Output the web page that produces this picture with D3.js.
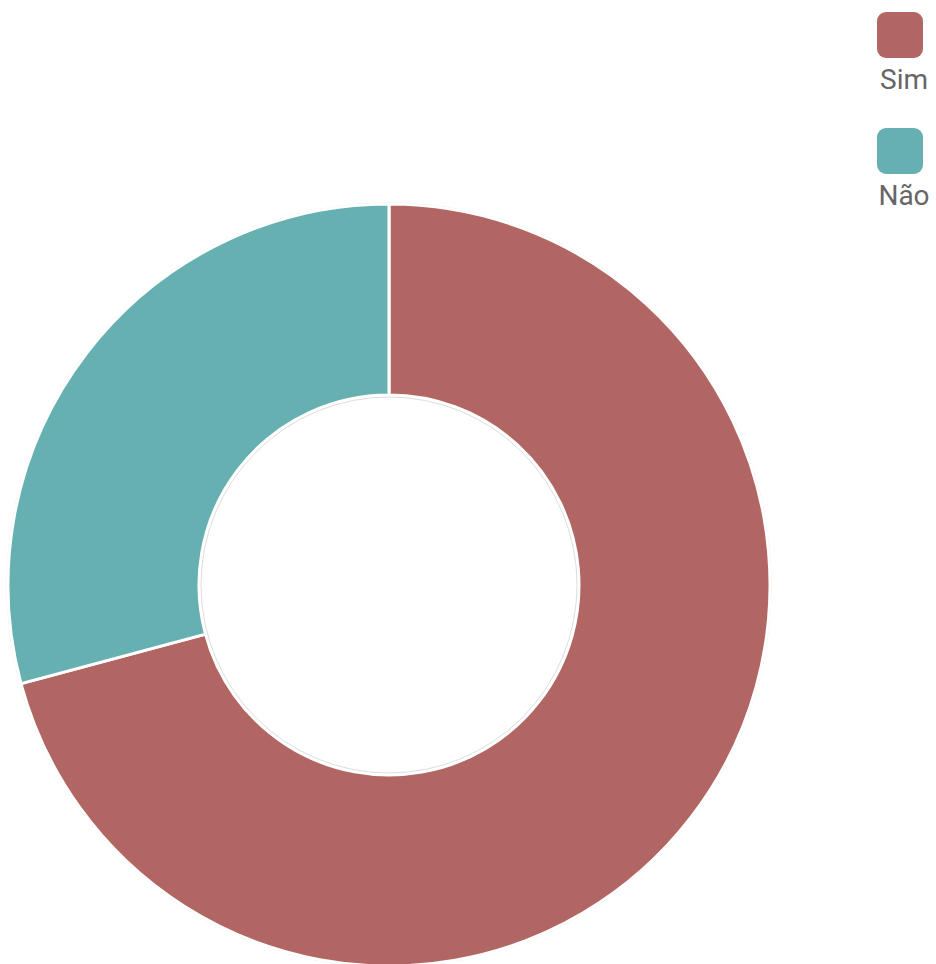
<!DOCTYPE html>
<html>
  <head>
    <meta charset="utf-8">
    <title>donut</title>
    <script src="https://d3js.org/d3.v7.min.js"></script>
    <style>
      body { margin: 0; background: #fff; }
    </style>
  </head>
  <body>
  	<script>
  	// data
  		var labels = ["Sim", "Não"];
  		var values = [17, 7];
  		var colors = ["#b16664", "#66b0b1"];

  	// basic setting
  		var width = 936;
  		var height = 964;
  		var cx = 389, cy = 585;
  		var outerR = 381, innerR = 190;

  		var svg = d3.select("body").append("svg")
  			.attr("width", width)
  			.attr("height", height);

  		var pie = d3.pie().sort(null).value(function(d) { return d; });
  		var arc = d3.arc().innerRadius(innerR).outerRadius(outerR);

  		var g = svg.append("g")
  			.attr("transform", "translate(" + cx + "," + cy + ")");

  	// faint outline around the ring
  		g.append("circle").attr("r", outerR + 1)
  			.attr("fill", "none").attr("stroke", "#ddd").attr("stroke-width", 1);

  		g.selectAll("path.slice")
  			.data(pie(values))
  			.enter()
  			.append("path")
  			.attr("class", "slice")
  			.attr("d", arc)
  			.attr("fill", function(d, i) { return colors[i]; })
  			.attr("stroke", "#fff")
  			.attr("stroke-width", 3);

  		g.append("circle").attr("r", innerR - 2)
  			.attr("fill", "none").attr("stroke", "#ddd").attr("stroke-width", 1);

  	// legend
  		var legend = svg.selectAll("g.legend")
  			.data(labels)
  			.enter()
  			.append("g")
  			.attr("class", "legend")
  			.attr("transform", function(d, i) { return "translate(877," + (12 + i * 116) + ")"; });

  		legend.append("rect")
  			.attr("width", 46)
  			.attr("height", 46)
  			.attr("rx", 9)
  			.attr("fill", function(d, i) { return colors[i]; });

  		legend.append("text")
  			.attr("x", 27)
  			.attr("y", 77)
  			.attr("text-anchor", "middle")
  			.style("font-family", "Roboto, sans-serif")
  			.style("font-size", "28px")
  			.attr("fill", "#666")
  			.text(function(d) { return d; });
  	</script>
  </body>
</html>
